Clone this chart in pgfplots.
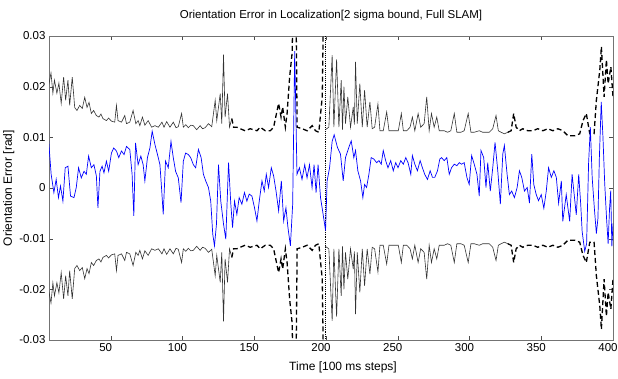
\documentclass[border=0pt]{standalone}
\usepackage{pgfplots}
\pgfplotsset{compat=1.18}
\usepackage{pgfplotstable}
\usepackage{fontspec}
\setmainfont{Liberation Sans}

\pgfplotstableread{
t v
6.8 0.0203
8.4 0.0227
9.7 0.0187
10.8 0.0213
12.5 0.0187
13.9 0.0207
15.5 0.0167
17.2 0.0219
18.6 0.0173
20.2 0.0213
21.4 0.0163
23.2 0.0219
24.9 0.0159
26.5 0.0153
28.4 0.0163
30.2 0.0157
31.9 0.0179
33.5 0.0159
34.9 0.0169
36.5 0.0147
38.1 0.0153
40.0 0.0143
41.8 0.0140
43.2 0.0146
44.6 0.0137
47.0 0.0133
48.5 0.0138
50.5 0.0132
52.8 0.0130
54.0 0.0163
55.1 0.0133
57.5 0.0130
59.8 0.0143
61.0 0.0127
63.3 0.0130
65.6 0.0153
67.5 0.0127
69.1 0.0133
70.3 0.0123
72.1 0.0140
73.8 0.0124
76.1 0.0133
78.5 0.0120
80.8 0.0123
83.2 0.0120
85.7 0.0130
87.1 0.0120
89.0 0.0131
91.3 0.0120
93.6 0.0130
95.5 0.0119
97.1 0.0121
99.4 0.0147
100.6 0.0120
102.3 0.0125
104.1 0.0119
105.8 0.0124
107.6 0.0123
109.9 0.0115
112.3 0.0123
114.0 0.0117
115.8 0.0119
118.1 0.0127
120.4 0.0121
122.8 0.0173
123.9 0.0133
126.3 0.0186
127.4 0.0127
128.6 0.0263
129.7 0.0140
131.4 0.0186
132.8 0.0120
134.4 0.0137
}\boundA

\pgfplotstableread{
t v
134.4 0.0137
135.6 0.0120
137.9 0.0120
140.2 0.0117
143.7 0.0113
147.2 0.0117
151.9 0.0113
154.2 0.0120
157.7 0.0113
161.2 0.0113
163.5 0.0120
167.0 0.0167
168.7 0.0140
169.8 0.0160
171.7 0.0120
172.9 0.0147
174.7 0.0220
176.4 0.0266
177.4 0.0400
179.0 0.0400
179.9 0.0120
183.4 0.0117
186.9 0.0113
190.4 0.0123
192.7 0.0113
195.0 0.0110
197.4 0.0180
198.5 0.0400
199.2 0.0400
}\boundB

\pgfplotstableread{
t v
199.5 0.0115
202.0 0.0120
204.3 0.0262
205.5 0.0120
207.4 0.0254
209.0 0.0120
210.6 0.0213
211.5 0.0115
212.5 0.0200
213.6 0.0127
215.2 0.0180
217.1 0.0120
219.0 0.0160
219.8 0.0125
220.6 0.0249
221.8 0.0127
223.6 0.0206
225.3 0.0120
226.9 0.0193
228.7 0.0120
230.6 0.0170
232.2 0.0117
233.9 0.0120
236.2 0.0166
237.6 0.0113
239.9 0.0113
242.3 0.0150
243.9 0.0113
246.2 0.0113
248.6 0.0113
250.4 0.0113
252.5 0.0147
253.9 0.0113
256.3 0.0113
258.6 0.0120
260.2 0.0140
261.9 0.0113
264.2 0.0147
266.0 0.0120
268.4 0.0127
270.2 0.0180
271.9 0.0113
273.5 0.0147
275.4 0.0120
277.2 0.0140
278.9 0.0113
282.4 0.0113
284.7 0.0110
287.0 0.0113
289.4 0.0147
291.2 0.0110
294.0 0.0110
296.3 0.0113
299.1 0.0147
301.0 0.0110
303.3 0.0110
306.8 0.0113
309.2 0.0110
311.5 0.0110
313.8 0.0110
316.2 0.0117
318.5 0.0143
320.1 0.0113
322.0 0.0110
324.3 0.0107
326.7 0.0110
}\boundC

\pgfplotstableread{
t v
326.7 0.0110
329.0 0.0113
330.8 0.0147
332.5 0.0120
334.8 0.0113
337.1 0.0117
340.6 0.0113
344.1 0.0113
347.6 0.0117
351.1 0.0113
354.6 0.0117
358.1 0.0113
361.6 0.0117
365.1 0.0113
368.6 0.0103
373.3 0.0103
376.8 0.0107
379.1 0.0133
381.4 0.0147
383.8 0.0107
386.8 0.0107
388.4 0.0173
390.8 0.0233
391.9 0.0279
393.8 0.0180
395.4 0.0253
396.6 0.0206
398.5 0.0239
400.0 0.0180
}\boundD

\pgfplotstableread{
t v
6.6 0.0099
8.5 0.0027
10.4 -0.0009
12.0 0.0017
13.6 -0.0019
15.0 0.0004
16.7 -0.0026
18.3 0.0040
20.2 0.0043
22.0 -0.0016
24.4 -0.0019
26.0 0.0001
27.6 0.0040
29.5 0.0020
31.4 0.0033
33.0 0.0027
34.6 0.0063
36.5 0.0040
38.3 0.0046
40.0 0.0024
41.1 -0.0039
42.5 0.0033
44.0 0.0043
45.3 0.0030
47.0 0.0053
48.6 0.0033
50.5 0.0069
52.1 0.0079
54.0 0.0073
55.6 0.0060
57.5 0.0073
59.3 0.0066
61.0 0.0082
63.3 0.0076
64.9 0.0027
66.1 -0.0055
67.3 0.0089
69.1 0.0046
71.0 0.0063
72.6 0.0046
73.8 0.0014
75.6 0.0060
77.3 0.0079
78.9 0.0112
80.8 0.0086
82.6 0.0066
84.3 0.0046
85.4 0.0001
86.6 -0.0052
88.2 0.0053
90.1 0.0040
92.0 0.0092
93.6 0.0060
95.2 0.0033
97.1 0.0020
99.0 -0.0029
100.6 0.0053
102.2 0.0069
104.1 0.0066
105.7 0.0060
107.6 0.0046
109.2 0.0040
111.1 0.0076
113.0 0.0060
114.6 0.0027
116.2 0.0014
118.1 0.0001
119.7 -0.0026
121.1 -0.0091
122.3 -0.0114
123.7 -0.0071
125.1 0.0046
126.7 -0.0026
128.6 -0.0071
130.2 -0.0101
132.1 0.0050
133.7 -0.0032
134.9 -0.0078
136.3 -0.0026
137.9 -0.0052
139.5 -0.0019
141.4 -0.0032
143.2 -0.0009
144.9 -0.0026
146.5 -0.0012
148.4 -0.0016
150.2 -0.0039
151.9 -0.0065
153.5 -0.0026
155.4 0.0014
157.0 -0.0006
158.4 0.0027
160.0 0.0001
161.9 0.0040
163.5 0.0024
165.2 -0.0006
167.0 -0.0045
168.9 0.0014
170.5 -0.0065
172.1 -0.0039
173.5 -0.0078
175.2 -0.0114
176.8 -0.0032
178.2 0.0270
179.8 0.0027
181.5 0.0040
183.3 0.0017
185.2 0.0046
186.8 0.0020
188.5 0.0046
190.3 0.0001
191.7 0.0046
193.1 -0.0009
194.5 0.0046
196.2 -0.0019
197.8 -0.0048
199.7 -0.0084
200.8 0.0014
202.5 0.0040
204.3 0.0092
205.7 0.0105
208.0 0.0080
210.1 0.0067
212.0 0.0014
213.6 0.0060
215.9 0.0080
217.6 0.0093
219.4 0.0060
220.6 0.0074
222.2 0.0034
224.1 0.0014
225.7 -0.0019
226.9 0.0007
228.3 0.0001
229.9 0.0027
231.5 0.0060
233.4 0.0057
235.3 0.0050
236.9 0.0054
238.5 0.0047
239.9 0.0074
241.6 0.0054
243.2 0.0040
245.1 0.0054
246.9 0.0034
248.6 0.0050
250.2 0.0040
252.1 0.0054
253.9 0.0047
255.6 0.0060
257.2 0.0050
259.1 0.0027
260.2 0.0064
261.9 0.0047
263.7 0.0034
265.6 0.0054
267.2 0.0040
268.8 0.0027
270.7 0.0017
272.6 0.0034
274.2 0.0021
275.8 0.0021
277.7 0.0034
279.3 0.0057
280.5 0.0060
282.4 0.0054
284.2 0.0060
285.9 0.0027
287.5 0.0040
289.4 0.0047
291.2 0.0044
292.9 0.0050
294.5 0.0047
296.3 0.0050
298.2 0.0021
299.8 0.0007
301.5 0.0064
303.3 0.0047
305.2 0.0027
306.8 -0.0016
308.0 0.0074
309.9 0.0060
311.5 0.0001
312.7 0.0050
314.5 -0.0006
316.2 0.0040
317.8 0.0090
319.7 0.0034
321.5 -0.0032
323.2 0.0067
324.3 0.0084
326.2 0.0027
327.8 -0.0013
329.4 -0.0006
331.3 -0.0019
333.2 0.0001
334.8 0.0034
336.4 0.0021
338.3 -0.0006
340.2 0.0001
341.8 -0.0030
343.4 0.0067
344.8 0.0007
346.5 -0.0013
348.1 -0.0025
350.0 -0.0013
351.8 -0.0040
353.5 -0.0006
355.1 0.0040
357.0 0.0021
358.8 0.0034
360.5 0.0021
362.1 -0.0030
364.0 0.0014
365.0 -0.0066
367.4 -0.0013
369.8 -0.0066
371.5 0.0027
374.4 -0.0053
376.1 0.0027
377.5 -0.0032
378.5 -0.0086
380.3 -0.0125
381.6 -0.0110
383.0 0.0050
384.2 0.0120
385.5 0.0020
387.0 -0.0040
388.4 -0.0090
389.5 -0.0060
390.5 0.0060
391.8 0.0170
393.0 0.0100
394.2 0.0010
395.5 -0.0060
396.6 -0.0110
397.6 -0.0040
398.4 -0.0005
399.2 -0.0115
400.0 -0.0070
}\errdata

\begin{document}
\begin{tikzpicture}
\begin{axis}[
  width=564pt, height=304pt, scale only axis,
  xmin=7, xmax=400, ymin=-0.03, ymax=0.03,
  xtick={50,100,150,200,250,300,350,400},
  ytick={-0.03,-0.02,-0.01,0,0.01,0.02,0.03},
  yticklabels={-0.03,-0.02,-0.01,0,0.01,0.02,0.03},
  /pgf/number format/assume math mode=true,
  scaled y ticks=false,
  tick align=inside, major tick length=4pt,
  axis line style={black!55},
  tick style={black!70},
  ticklabel style={font=\fontsize{11.5}{13}\selectfont},
  xticklabel style={xshift=-5pt},
  title={Orientation Error in Localization[2 sigma bound, Full SLAM]},
  title style={font=\fontsize{11.5}{13}\selectfont, yshift=6pt},
  xlabel={Time [100 ms steps]},
  xlabel style={font=\fontsize{12}{14}\selectfont, yshift=-3pt, xshift=12pt},
  ylabel={Orientation Error [rad]},
  ylabel style={font=\fontsize{12}{14}\selectfont, yshift=-2pt},
  clip=true,
]
\addplot[black!80, line width=0.6pt] table[x=t,y=v] {\boundA};
\addplot[black!80, line width=0.6pt] table[x=t,y expr=-\thisrow{v}] {\boundA};
\addplot[black, line width=1.3pt, dash pattern=on 5pt off 3pt] table[x=t,y=v] {\boundB};
\addplot[black, line width=1.3pt, dash pattern=on 5pt off 3pt] table[x=t,y expr=-\thisrow{v}] {\boundB};
\addplot[black!80, line width=0.6pt] table[x=t,y=v] {\boundC};
\addplot[black!80, line width=0.6pt] table[x=t,y expr=-\thisrow{v}] {\boundC};
\addplot[black, line width=1.3pt, dash pattern=on 5pt off 3pt] table[x=t,y=v] {\boundD};
\addplot[black, line width=1.3pt, dash pattern=on 5pt off 3pt] table[x=t,y expr=-\thisrow{v}] {\boundD};
\addplot[black, line width=0.9pt, densely dotted] coordinates {(199.8,0.03) (199.8,-0.03)};
\addplot[blue, line width=0.7pt] table[x=t,y=v] {\errdata};
\end{axis}
\pgfresetboundingbox
\path[use as bounding box] (-49pt,-39pt) rectangle (569pt,340pt);
\end{tikzpicture}
\end{document}
